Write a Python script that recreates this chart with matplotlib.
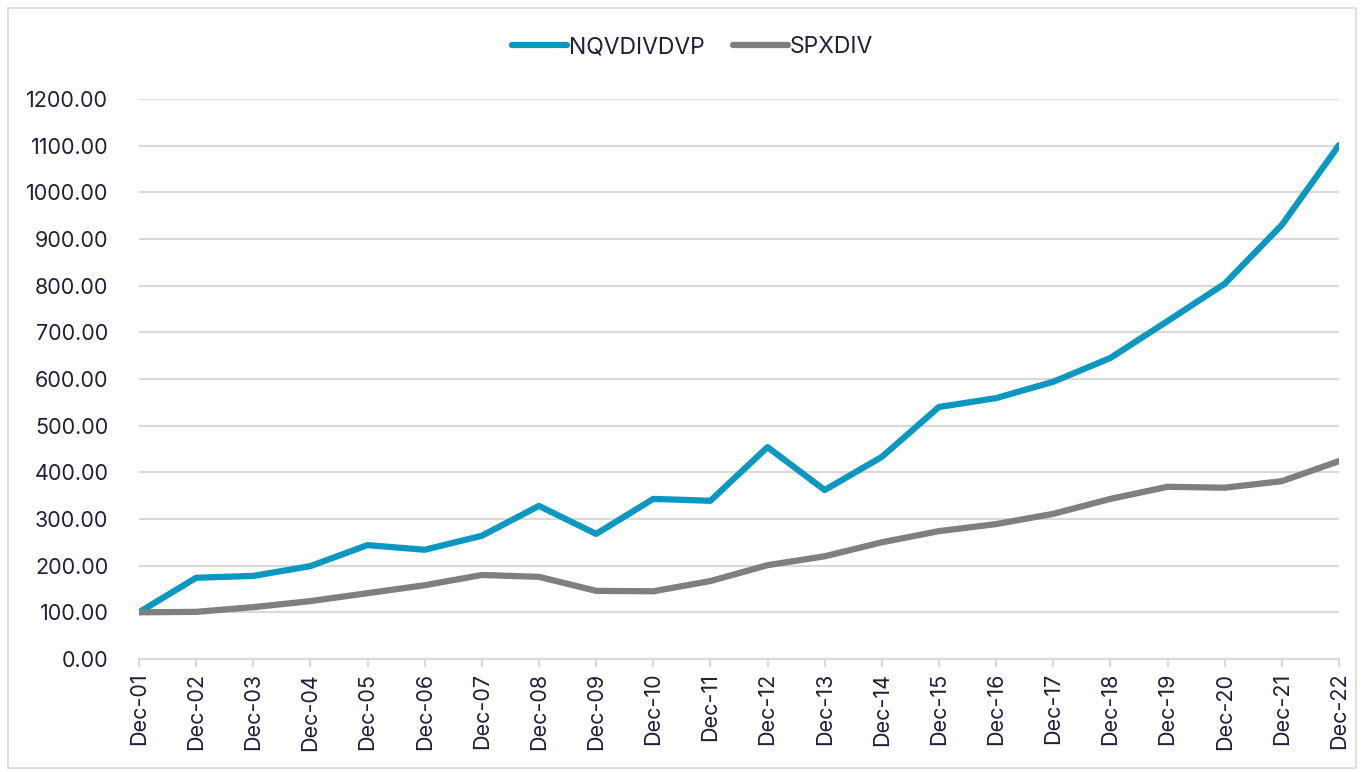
import matplotlib.pyplot as plt
from matplotlib.patches import Rectangle

plt.rcParams['font.family'] = ['Inter', 'DejaVu Sans']

labels = ['Dec-%02d' % y for y in range(1, 23)]
nqvdivdvp = [100, 174, 178, 199, 244, 234, 264, 328, 268, 343, 339, 454,
             362, 433, 540, 559, 594, 645, 724, 804, 930, 1101]
spxdiv = [100, 101, 111, 124, 141, 158, 180, 176, 146, 145, 167, 201,
          220, 250, 274, 289, 311, 343, 369, 367, 381, 424]

text_col = '#1f1f3d'
fig = plt.figure(figsize=(13.61, 7.72), dpi=100)
ax = fig.add_axes([0.1021, 0.1464, 0.8817, 0.7254])

x = range(len(labels))
ax.plot(x, nqvdivdvp, color='#0a97c1', lw=4.5, solid_capstyle='round', solid_joinstyle='round', label='NQVDIVDVP')
ax.plot(x, spxdiv, color='#7f7f7f', lw=4.5, solid_capstyle='round', solid_joinstyle='round', label='SPXDIV')

ax.set_xlim(0, len(labels) - 1)
ax.set_ylim(0, 1200)
ax.set_yticks(range(0, 1201, 100))
ax.set_yticklabels(['%.2f' % v for v in range(0, 1201, 100)])
ax.set_xticks(list(x))
ax.set_xticklabels(labels, rotation=90)
ax.grid(axis='y', color='#d9d9d9', lw=1.5)
ax.set_axisbelow(True)
for s in ['top', 'right', 'left']:
    ax.spines[s].set_visible(False)
ax.spines['bottom'].set_color('#d9d9d9')
ax.spines['bottom'].set_linewidth(1.5)
ax.tick_params(axis='y', length=0, pad=22, labelsize=15.5, labelcolor=text_col)
ax.tick_params(axis='x', length=6, width=1.5, color='#d9d9d9', pad=4, labelsize=15.5, labelcolor=text_col)

# legend sits a bit left of the plot centre, like the original
h, l = ax.get_legend_handles_labels()
fig.legend(h, l, loc='center', bbox_to_anchor=(0.509, 0.939), ncol=2, frameon=False,
           fontsize=16.5, labelcolor=text_col, handlelength=2.4, handletextpad=0.1,
           columnspacing=1.2)

fig.patches.append(Rectangle((0.006, 0.005), 0.99, 0.985, transform=fig.transFigure,
                             fill=False, edgecolor='#d9d9d9', lw=1.2))

fig.savefig('out.png', dpi=100)
